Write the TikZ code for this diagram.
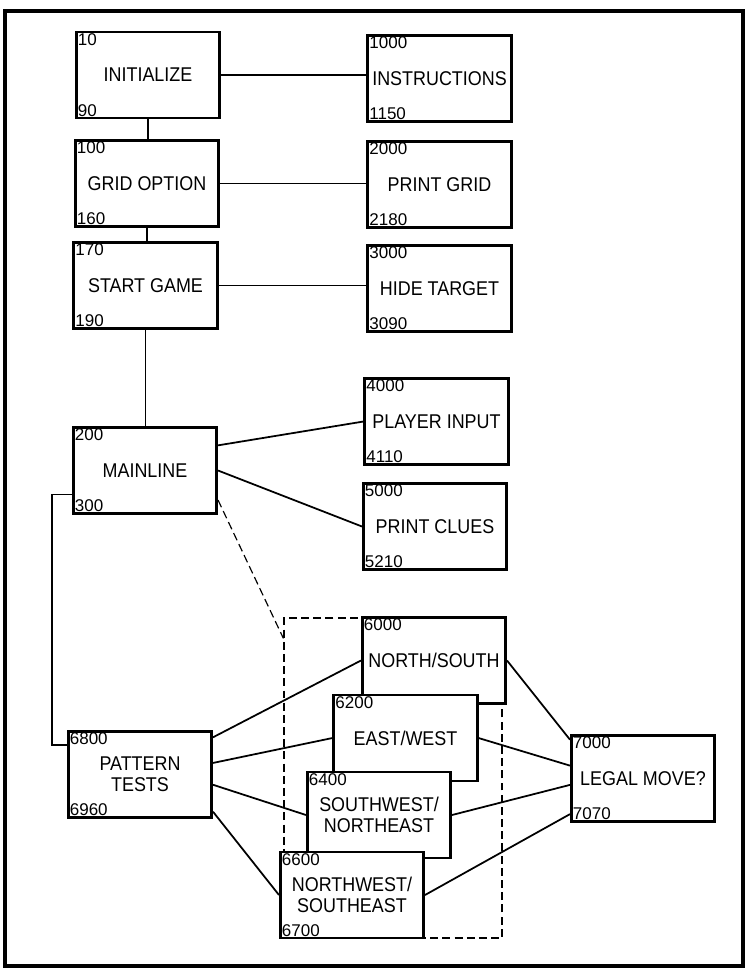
\documentclass[tikz,border=0pt]{standalone}
\usepackage{fontspec}
\setmainfont{Liberation Sans}
\newfontfamily\rotulo[FakeStretch=0.9]{Liberation Sans}
\usetikzlibrary{calc}

\begin{document}
\begin{tikzpicture}[x=0.03cm,y=-0.03cm,
    caja/.style={draw, line width=2.3pt, fill=white, minimum width=4.3cm,
      minimum height=2.58cm, align=center, inner sep=2pt,
      font=\rotulo\fontsize{17}{18}\selectfont},
    arriba/.style={anchor=north west, inner sep=2.3pt, font=\fontsize{14.5}{15}\selectfont},
    abajo/.style={anchor=south west, inner sep=2.3pt, font=\fontsize{14.5}{15}\selectfont},
    linea/.style={line width=1.5pt},
    fina/.style={line width=0.9pt},
    rayas/.style={line width=1pt, dash pattern=on 6.8pt off 3.6pt}]
    \useasboundingbox (0,0) rectangle (749,971);

    %Marco exterior
    \draw[line width=3pt] (5,11) rectangle (743,966);

    %Grupo de patrones (rayado, debajo de las cajas)
    \node[rayas, draw, minimum width=6.54cm, minimum height=9.6cm] (grupo) at (393,778) {};
    \coordinate (entrada) at ($(grupo.north west)+(0,21)$);

    %Columna izquierda
    \node[caja, label={[arriba]north west:10}, label={[abajo]south west:90}] (init) at (148,75) {INITIALIZE};
    \node[caja, label={[arriba]north west:100}, label={[abajo]south west:160}] (grid) at (147,183.5) {GRID OPTION};
    \node[caja, label={[arriba]north west:170}, label={[abajo]south west:190}] (start) at (145.5,285.5) {START GAME};
    \node[caja, label={[arriba]north west:200}, label={[abajo]south west:300}] (mainl) at (145,470.5) {MAINLINE};
    \node[caja, label={[arriba]north west:6800}, label={[abajo]south west:6960}] (tests) at (140,774.5) {PATTERN\\TESTS};

    %Columna derecha
    \node[caja, label={[arriba]north west:1000}, label={[abajo]south west:1150}] (instr) at (439.5,78.5) {INSTRUCTIONS};
    \node[caja, label={[arriba]north west:2000}, label={[abajo]south west:2180}] (prgrid) at (439.5,184.5) {PRINT GRID};
    \node[caja, label={[arriba]north west:3000}, label={[abajo]south west:3090}] (hide) at (439.5,288.5) {HIDE TARGET};
    \node[caja, label={[arriba]north west:4000}, label={[abajo]south west:4110}] (input) at (436.5,421.5) {PLAYER INPUT};
    \node[caja, label={[arriba]north west:5000}, label={[abajo]south west:5210}] (clues) at (435,526.5) {PRINT CLUES};

    %Cajas superpuestas, en este orden
    \node[caja, label={[arriba]north west:6000}] (ns) at (434,660.5) {NORTH/SOUTH};
    \node[caja, label={[arriba]north west:6200}] (ew) at (405.5,738) {EAST/WEST};
    \node[caja, label={[arriba]north west:6400}] (swne) at (379,815) {SOUTHWEST/\\NORTHEAST};
    \node[caja, label={[arriba]north west:6600}, label={[abajo]south west:6700}] (nwse) at (352,895) {NORTHWEST/\\SOUTHEAST};

    \node[caja, label={[arriba]north west:7000}, label={[abajo]south west:7070}] (legal) at (643,778.5) {LEGAL MOVE?};

    %Uniones verticales
    \draw[linea] (init.south) -- (init.south |- grid.north);
    \draw[linea] (grid.south) -- (grid.south |- start.north);
    \draw[fina] (start.south) -- (start.south |- mainl.north);

    %Uniones horizontales
    \draw[linea] (init.east) -- (init.east -| instr.west);
    \draw[linea] (grid.east) -- (grid.east -| prgrid.west);
    \draw[linea] (start.east) -- (start.east -| hide.west);
    \draw[linea] (mainl.19) -- (input.west);
    \draw[linea] (mainl.east) -- (clues.west);

    %MAINLINE a PATTERN TESTS y al grupo
    \draw[fina] (mainl.198) -- ++(-20,0) |- (tests.158);
    \draw[rayas] (mainl.-22) -- (entrada);

    %Patrones
    \draw[linea] (tests.27) -- (ns.west);
    \draw[linea] (tests.9) -- (ew.west);
    \draw[linea] (tests.-8) -- (swne.west);
    \draw[linea] (tests.-27) -- (nwse.west);
    \draw[linea] (ns.east) -- (legal.152);
    \draw[linea] (ew.east) -- (legal.170);
    \draw[linea] (swne.east) -- (legal.185);
    \draw[linea] (nwse.east) -- (legal.206);
\end{tikzpicture}
\end{document}
